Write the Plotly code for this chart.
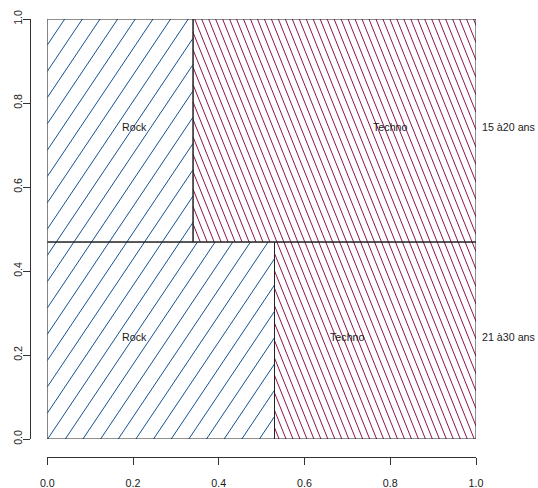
import plotly.graph_objects as go
import numpy as np

# ---- data ----
groups = ["15 à20 ans", "21 à30 ans"]          # top row, bottom row
genres = ["Rock", "Techno"]
group_share = [0.531, 0.469]                    # height of each row (top, bottom)
rock_share = [0.34, 0.53]                       # width of Rock in each row
x_ticks = [0.0, 0.2, 0.4, 0.6, 0.8, 1.0]
x_tick_labels = ["0.0", "0.2", "0.4", "0.6", "0.8", "1.0"]
y_ticks = [0.0, 0.2, 0.4, 0.6, 0.8, 1.0]
y_tick_labels = ["0.0", "0.2", "0.4", "0.6", "0.8", "1.0"]

# ---- style ----
FONT = "Liberation Sans, Arial, Helvetica, sans-serif"
FS = 10.7
TXT = "#1a1a1a"
AX = "#333333"
BLUE = "#14528F"
RED = "#8E1452"

W, H = 538, 488
ML, MR, MT, MB = 30, 62, 19, 31
plot_w = W - ML - MR
plot_h = H - MT - MB
box_left_px = 17.3
box_bot_px = 18
xdom0 = box_left_px / plot_w
ydom0 = box_bot_px / plot_h
PXW = plot_w * (1 - xdom0)   # pixels per data unit in x
PXH = plot_h * (1 - ydom0)   # pixels per data unit in y

# rectangles built from data
rects = []  # (x0, x1, y0, y1, genre_index)
bottom_h = group_share[1]
row_bounds = [(bottom_h, 1.0), (0.0, bottom_h)]  # top row, bottom row
for r, (y0, y1) in enumerate(row_bounds):
    rs = rock_share[r]
    rects.append((0.0, rs, y0, y1, 0))
    rects.append((rs, 1.0, y0, y1, 1))

# hatch families (pixel space, y up): Y = m*X + c0 + k*dc
hatch = {
    0: dict(m=1.49, c0=394.0, dc=26.3),
    1: dict(m=-2.5, c0=420.0 + 2.5 * 147.4, dc=6.97 * 2.5),
}

def hatch_segments(x0, x1, y0, y1, m, c0, dc):
    X0, X1, Y0, Y1 = x0 * PXW, x1 * PXW, y0 * PXH, y1 * PXH
    xs, ys = [], []
    cs = [m * X0, m * X1]
    cmin = Y0 - max(cs)
    cmax = Y1 - min(cs)
    kmin = int(np.floor((cmin - c0) / dc)) - 1
    kmax = int(np.ceil((cmax - c0) / dc)) + 1
    for k in range(kmin, kmax + 1):
        c = c0 + k * dc
        a, b = (Y0 - c) / m, (Y1 - c) / m
        lo, hi = min(a, b), max(a, b)
        lo, hi = max(lo, X0), min(hi, X1)
        if hi - lo > 1e-6:
            xs += [lo / PXW, hi / PXW, None]
            ys += [(m * lo + c) / PXH, (m * hi + c) / PXH, None]
    return xs, ys

fig = go.Figure()
for g, col in [(0, BLUE), (1, RED)]:
    X, Y = [], []
    for (x0, x1, y0, y1, gi) in rects:
        if gi == g:
            xs, ys = hatch_segments(x0, x1, y0, y1, **hatch[g])
            X += xs
            Y += ys
    fig.add_trace(go.Scatter(x=X, y=Y, mode="lines", line=dict(color=col, width=1),
                             hoverinfo="skip", showlegend=False, name=genres[g]))

shapes = []
for (x0, x1, y0, y1, gi) in rects:
    shapes.append(dict(type="rect", xref="x", yref="y", x0=x0, x1=x1, y0=y0, y1=y1,
                       line=dict(color="#222222", width=1), fillcolor="rgba(0,0,0,0)"))

# label anchor positions (as drawn in the reference)
label_pos = [[(0.2035, 0.742), (0.80, 0.742)], [(0.2035, 0.243), (0.701, 0.243)]]
anns = []
for r in range(2):
    for g in range(2):
        lx, ly = label_pos[r][g]
        anns.append(dict(x=lx, y=ly, xref="x", yref="y", text=genres[g], showarrow=False,
                         font=dict(family=FONT, size=FS, color=TXT)))
    anns.append(dict(x=1.0, y=label_pos[r][0][1], xref="x", yref="y", text=groups[r],
                     showarrow=False, xanchor="left", xshift=4,
                     font=dict(family=FONT, size=FS, color=TXT)))

fig.update_layout(
    template="none",
    width=W, height=H, margin=dict(l=ML, r=MR, t=MT, b=MB, autoexpand=False),
    paper_bgcolor="white", plot_bgcolor="white",
    shapes=shapes, annotations=anns, showlegend=False,
    xaxis=dict(range=[0, 1], domain=[xdom0, 1], anchor="free", position=0,
               automargin=False,
               tickvals=x_ticks, ticktext=x_tick_labels, ticks="outside", ticklen=7,
               tickcolor=AX, showline=True, linecolor=AX, linewidth=1,
               showgrid=False, zeroline=False, ticklabelstandoff=9,
               tickfont=dict(family=FONT, size=FS, color=TXT)),
    yaxis=dict(range=[0, 1], domain=[ydom0, 1], anchor="free", position=0,
               automargin=False,
               tickvals=y_ticks, ticktext=y_tick_labels, ticks="outside", ticklen=7,
               tickcolor=AX, showline=True, linecolor=AX, linewidth=1,
               showgrid=False, zeroline=False, tickangle=-90, ticklabelstandoff=-3,
               tickfont=dict(family=FONT, size=FS, color=TXT)),
)

fig.write_html("out.html", config={"displayModeBar": False},
               post_script="document.body.style.margin='0';document.body.style.padding='0';document.body.style.overflow='hidden';")
